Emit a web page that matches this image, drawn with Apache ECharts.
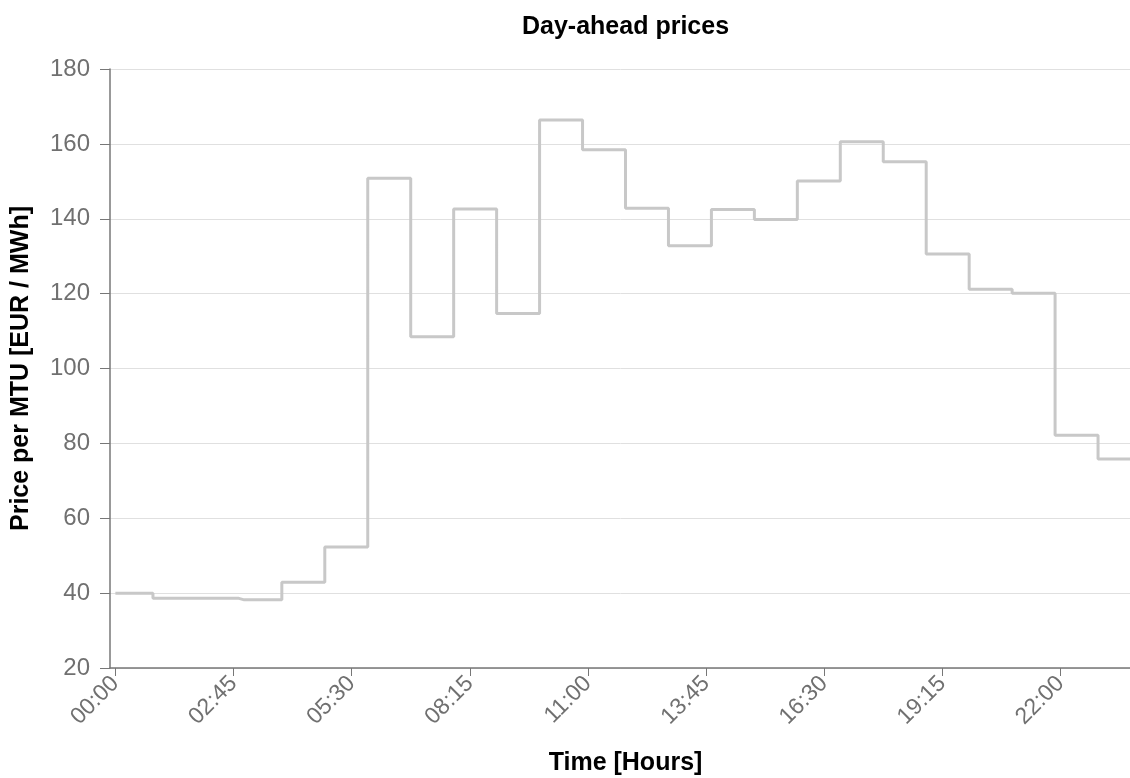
<!DOCTYPE html>
<html>
<head>
<meta charset="utf-8">
<script src="https://cdn.jsdelivr.net/npm/echarts@6/dist/echarts.min.js"></script>
<style>
html,body{margin:0;padding:0;background:#fff;}
#chart{width:1130px;height:778px;}
</style>
</head>
<body>
<div id="chart"></div>
<script>
// Quarter-hour MTU labels (00:00 .. 23:45)
const timeLabels = [];
for (let h = 0; h < 24; h++) {
  for (let m = 0; m < 60; m += 15) {
    timeLabels.push(String(h).padStart(2, '0') + ':' + String(m).padStart(2, '0'));
  }
}

// Day-ahead price per MTU (EUR / MWh), one value per quarter hour
const prices = [
  40.0, 40.0, 40.0, 40.0,
  38.6, 38.6, 38.6, 38.6,
  38.6, 38.6, 38.6, 38.6,
  38.2, 38.2, 38.2, 38.2,
  42.9, 42.9, 42.9, 42.9,
  52.3, 52.3, 52.3, 52.3,
  150.8, 150.8, 150.8, 150.8,
  108.5, 108.5, 108.5, 108.5,
  142.6, 142.6, 142.6, 142.6,
  114.7, 114.7, 114.7, 114.7,
  166.4, 166.4, 166.4, 166.4,
  158.4, 158.4, 158.4, 158.4,
  142.8, 142.8, 142.8, 142.8,
  132.8, 132.8, 132.8, 132.8,
  142.5, 142.5, 142.5, 142.5,
  139.8, 139.8, 139.8, 139.8,
  150.1, 150.1, 150.1, 150.1,
  160.6, 160.6, 160.6, 160.6,
  155.2, 155.2, 155.2, 155.2,
  130.6, 130.6, 130.6, 130.6,
  121.2, 121.2, 121.2, 121.2,
  120.1, 120.1, 120.1, 120.1,
  82.2, 82.2, 82.2, 82.2,
  75.8, 75.8, 75.8, 75.8
];

const titleText = 'Day-ahead prices';
const xName = 'Time [Hours]';
const yName = 'Price per MTU [EUR / MWh]';

const FONT = '"Liberation Sans", Arial, Helvetica, sans-serif';
const chart = echarts.init(document.getElementById('chart'), null, {renderer: 'canvas'});
chart.setOption({
  animation: false,
  backgroundColor: '#ffffff',
  title: {
    text: titleText,
    left: 517,
    top: 10,
    textStyle: {fontFamily: FONT, fontSize: 25, fontWeight: 'bold', color: '#000'}
  },
  grid: {left: 110, right: -11, top: 69, bottom: 110, containLabel: false, outerBoundsMode: 'none'},
  xAxis: {
    type: 'category',
    data: timeLabels,
    boundaryGap: true,
    name: xName,
    nameLocation: 'middle',
    nameGap: 83,
    nameTextStyle: {fontFamily: FONT, fontSize: 25, fontWeight: 'bold', color: '#000'},
    axisLine: {lineStyle: {color: '#777', width: 1.5}},
    axisTick: {show: true, interval: 10, alignWithLabel: true, length: 8, lineStyle: {color: '#777'}},
    axisLabel: {interval: 10, rotate: 45, margin: 12, fontFamily: FONT, fontSize: 23, color: '#707070'},
    splitLine: {show: false}
  },
  yAxis: {
    type: 'value',
    min: 20,
    max: 180,
    interval: 20,
    name: yName,
    nameLocation: 'middle',
    nameGap: 76,
    nameTextStyle: {fontFamily: FONT, fontSize: 25, fontWeight: 'bold', color: '#000'},
    axisLine: {show: true, lineStyle: {color: '#777', width: 1.5}},
    axisTick: {show: true, length: 10, lineStyle: {color: '#777'}},
    axisLabel: {margin: 20, fontFamily: FONT, fontSize: 24, color: '#707070'},
    splitLine: {show: true, lineStyle: {color: '#e0e0e0', width: 1}}
  },
  series: [{
    type: 'line',
    step: 'middle',
    data: prices,
    showSymbol: false,
    symbol: 'none',
    lineStyle: {color: '#c8c8c8', width: 3},
    z: 3
  }]
});
</script>
</body>
</html>
